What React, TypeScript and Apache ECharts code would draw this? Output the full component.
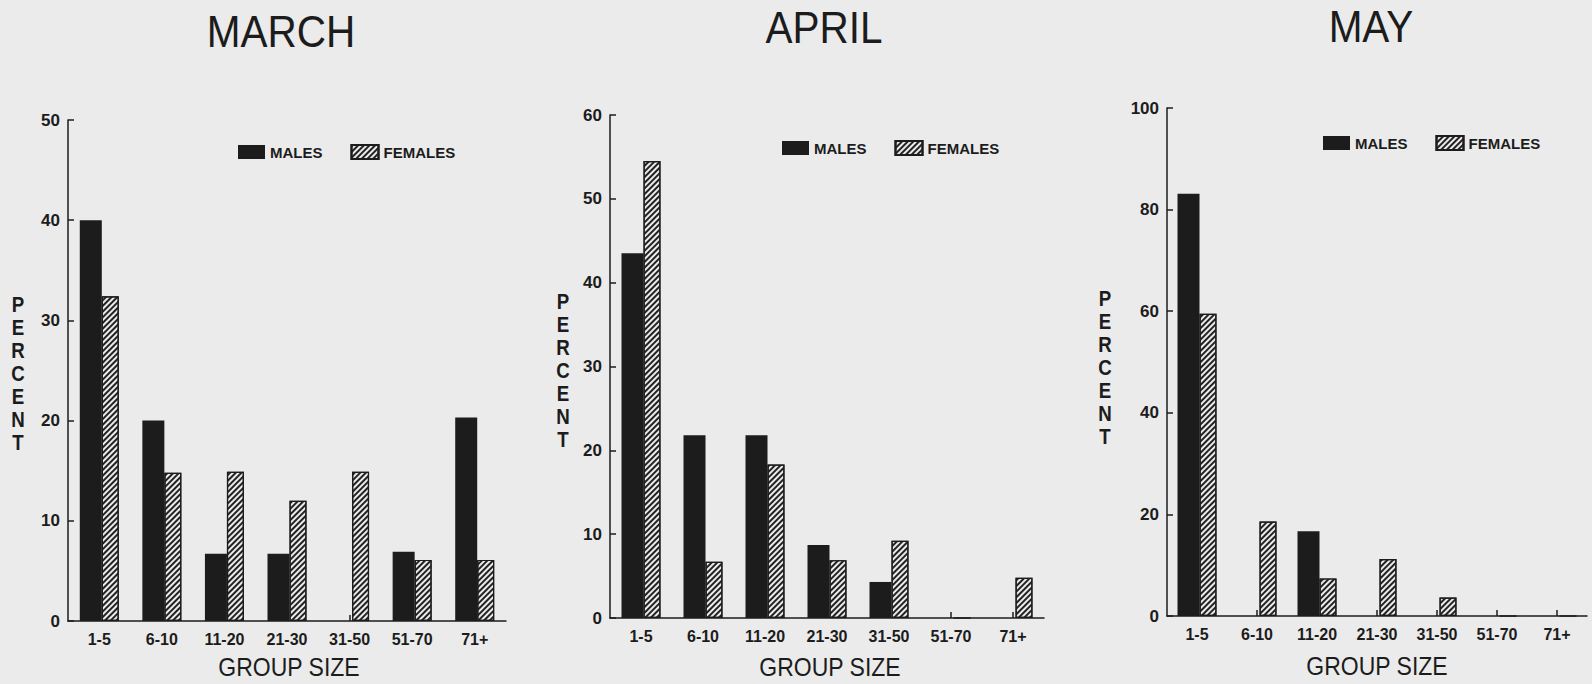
import React, { useEffect, useRef } from "react";
import * as echarts from "echarts";

const CATEGORIES = ["1-5", "6-10", "11-20", "21-30", "31-50", "51-70", "71+"];

const MARCH_MALES = [40, 20, 6.7, 6.7, 0, 6.9, 20.3];
const MARCH_FEMALES = [32.4, 14.8, 14.9, 12.0, 14.9, 6.1, 6.1];
const APRIL_MALES = [43.5, 21.8, 21.8, 8.7, 4.3, 0, 0];
const APRIL_FEMALES = [54.5, 6.7, 18.3, 6.9, 9.2, 0, 4.8];
const MAY_MALES = [83.1, 0, 16.7, 0, 0, 0, 0];
const MAY_FEMALES = [59.5, 18.6, 7.4, 11.2, 3.65, 0, 0];

const MONTHS = ["MARCH", "APRIL", "MAY"];
const Y_MAX = [50, 60, 100];
const Y_INTERVAL = [10, 10, 20];
const SERIES_NAMES = ["MALES", "FEMALES"];
const Y_TITLE = "PERCENT";
const X_TITLE = "GROUP SIZE";

const BG = "#ebebeb";
const INK = "#1c1c1c";
const FONT = '"Liberation Sans", Arial, Helvetica, sans-serif';

export default function App() {
  const ref = useRef<HTMLDivElement>(null);

  useEffect(() => {
    document.body.style.margin = "0";
    document.body.style.background = BG;
    const chart = echarts.init(ref.current!, null, { renderer: "svg" });

    const grids = [
      { left: 68, top: 120, width: 438, height: 501 },
      { left: 610, top: 115, width: 434, height: 503 },
      { left: 1167, top: 108, width: 420, height: 508 },
    ];
    const males = [MARCH_MALES, APRIL_MALES, MAY_MALES];
    const females = [MARCH_FEMALES, APRIL_FEMALES, MAY_FEMALES];

    const titlePos = [
      [281, 31],
      [824, 27],
      [1371, 26],
    ];
    const percentPos = [
      [18, 373],
      [563, 370],
      [1105, 367],
    ];
    const groupPos = [
      [289, 667],
      [830, 667],
      [1377, 666],
    ];
    const legendPos = [
      [238, 144],
      [782, 140],
      [1323, 135],
    ];

    const axisLine = { show: true, lineStyle: { color: INK, width: 1.5 } };
    const tickStyle = { show: true, inside: true, length: 6, lineStyle: { color: INK, width: 1.5 } };
    const labelStyle = { color: INK, fontFamily: FONT, fontWeight: "bold" as const, fontSize: 17 };

    const decal = {
      symbol: "rect",
      symbolSize: 1,
      color: "#222222",
      backgroundColor: BG,
      dashArrayX: [1, 0],
      dashArrayY: [1.3, 1.7],
      rotation: -Math.PI / 4,
    };

    const series: any[] = [];
    for (let i = 0; i < 3; i++) {
      series.push({
        name: SERIES_NAMES[0],
        type: "bar",
        xAxisIndex: i,
        yAxisIndex: i,
        data: males[i],
        barWidth: 22,
        barGap: "0%",
        itemStyle: { color: INK },
      });
      series.push({
        name: SERIES_NAMES[1],
        type: "bar",
        xAxisIndex: i,
        yAxisIndex: i,
        data: females[i],
        barWidth: 17,
        barGap: "0%",
        itemStyle: { color: BG, borderColor: INK, borderWidth: 1.2, decal },
      });
    }

    const graphic: any[] = [];
    for (let i = 0; i < 3; i++) {
      graphic.push({
        type: "text",
        x: titlePos[i][0],
        y: titlePos[i][1],
        scaleX: 0.9,
        style: {
          text: MONTHS[i],
          fill: INK,
          fontSize: 45,
          lineHeight: 38,
          fontFamily: FONT,
          textAlign: "center",
          textVerticalAlign: "middle",
        },
      });
      graphic.push({
        type: "text",
        x: percentPos[i][0],
        y: percentPos[i][1],
        scaleX: 0.85,
        style: {
          text: Y_TITLE.split("").join("\n"),
          fill: INK,
          fontSize: 22,
          fontWeight: "bold",
          lineHeight: 23,
          fontFamily: FONT,
          textAlign: "center",
          textVerticalAlign: "middle",
        },
      });
      graphic.push({
        type: "text",
        x: groupPos[i][0],
        y: groupPos[i][1],
        scaleX: 0.92,
        style: {
          text: X_TITLE,
          fill: INK,
          fontSize: 25,
          fontFamily: FONT,
          textAlign: "center",
          textVerticalAlign: "middle",
        },
      });
    }

    chart.setOption({
      animation: false,
      backgroundColor: BG,
      grid: grids,
      legend: legendPos.map((p) => ({
        left: p[0],
        top: p[1],
        padding: 0,
        itemWidth: 27,
        itemHeight: 14,
        itemGap: 28,
        icon: "rect",
        selectedMode: false,
        data: SERIES_NAMES,
        textStyle: { color: INK, fontFamily: FONT, fontWeight: "bold", fontSize: 15 },
      })),
      xAxis: [0, 1, 2].map((i) => ({
        type: "category",
        gridIndex: i,
        data: CATEGORIES,
        axisLine,
        axisTick: { ...tickStyle, alignWithLabel: true },
        axisLabel: { ...labelStyle, fontSize: 16, margin: 10, interval: 0 },
        splitLine: { show: false },
      })),
      yAxis: [0, 1, 2].map((i) => ({
        type: "value",
        gridIndex: i,
        min: 0,
        max: Y_MAX[i],
        interval: Y_INTERVAL[i],
        axisLine,
        axisTick: tickStyle,
        axisLabel: { ...labelStyle, margin: 8 },
        splitLine: { show: false },
      })),
      series,
      graphic,
    });

    return () => chart.dispose();
  }, []);

  return <div ref={ref} style={{ width: 1592, height: 684, background: BG }} />;
}
